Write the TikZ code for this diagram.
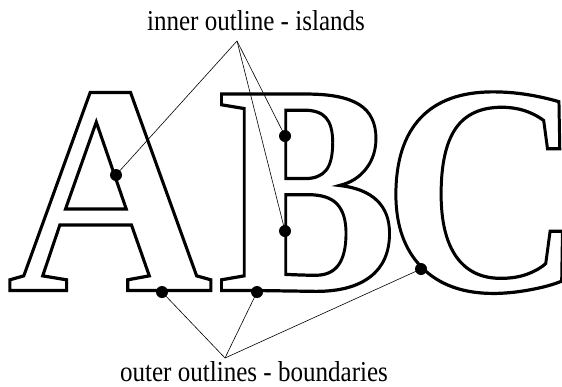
\documentclass[tikz,border=0pt]{standalone}
\usepackage{fontspec}
\setmainfont{Liberation Serif}
\newcommand{\outlined}[2]{\scalebox{#1}[1]{\special{pdf:code 1 Tr 3.2 w 0 G}#2\special{pdf:code 0 Tr 0.4 w}}}
\newcommand{\narrow}[1]{\scalebox{0.87}[1]{#1}}
\begin{document}
\begin{tikzpicture}[x=1pt,y=-1pt,
    glyph/.style={inner sep=0pt,anchor=base,font=\fontsize{300}{300}\selectfont\bfseries},
    dot/.style={circle,fill=black,inner sep=0pt,minimum size=12pt},
    lead/.style={line width=0.6pt},
    caption/.style={inner sep=0pt,anchor=base,font=\fontsize{28.8}{30}\selectfont}]
    \useasboundingbox (0,0) rectangle (562,386);

    % Letters
    \node[glyph] (letA) at (110,290.5) {\outlined{0.95}{A}};
    \node[glyph] (letB) at (307,290.5) {\outlined{0.90}{B}};
    \node[glyph] (letC) at (483,290.5) {\outlined{0.93}{C}};

    % Labels
    \node[caption] (islands) at (256,30) {\narrow{inner outline - islands}};
    \node[caption] (boundaries) at (254,381) {\narrow{outer outlines - boundaries}};
    \coordinate (itop) at (237,41);
    \coordinate (btop) at (225,358);

    % Islands
    \node[dot] (pA) at (116,175) {};
    \node[dot] (pB1) at (285,136) {};
    \node[dot] (pB2) at (285,231) {};
    \draw[lead] (itop) -- (pA.center);
    \draw[lead] (itop) -- (pB1.center);
    \draw[lead] (itop) -- (pB2.center);

    % Boundaries
    \node[dot] (qA) at (162,292) {};
    \node[dot] (qB) at (257,292) {};
    \node[dot] (qC) at (421,269) {};
    \draw[lead] (btop) -- (qA.center);
    \draw[lead] (btop) -- (qB.center);
    \draw[lead] (btop) -- (qC.center);
\end{tikzpicture}
\end{document}
